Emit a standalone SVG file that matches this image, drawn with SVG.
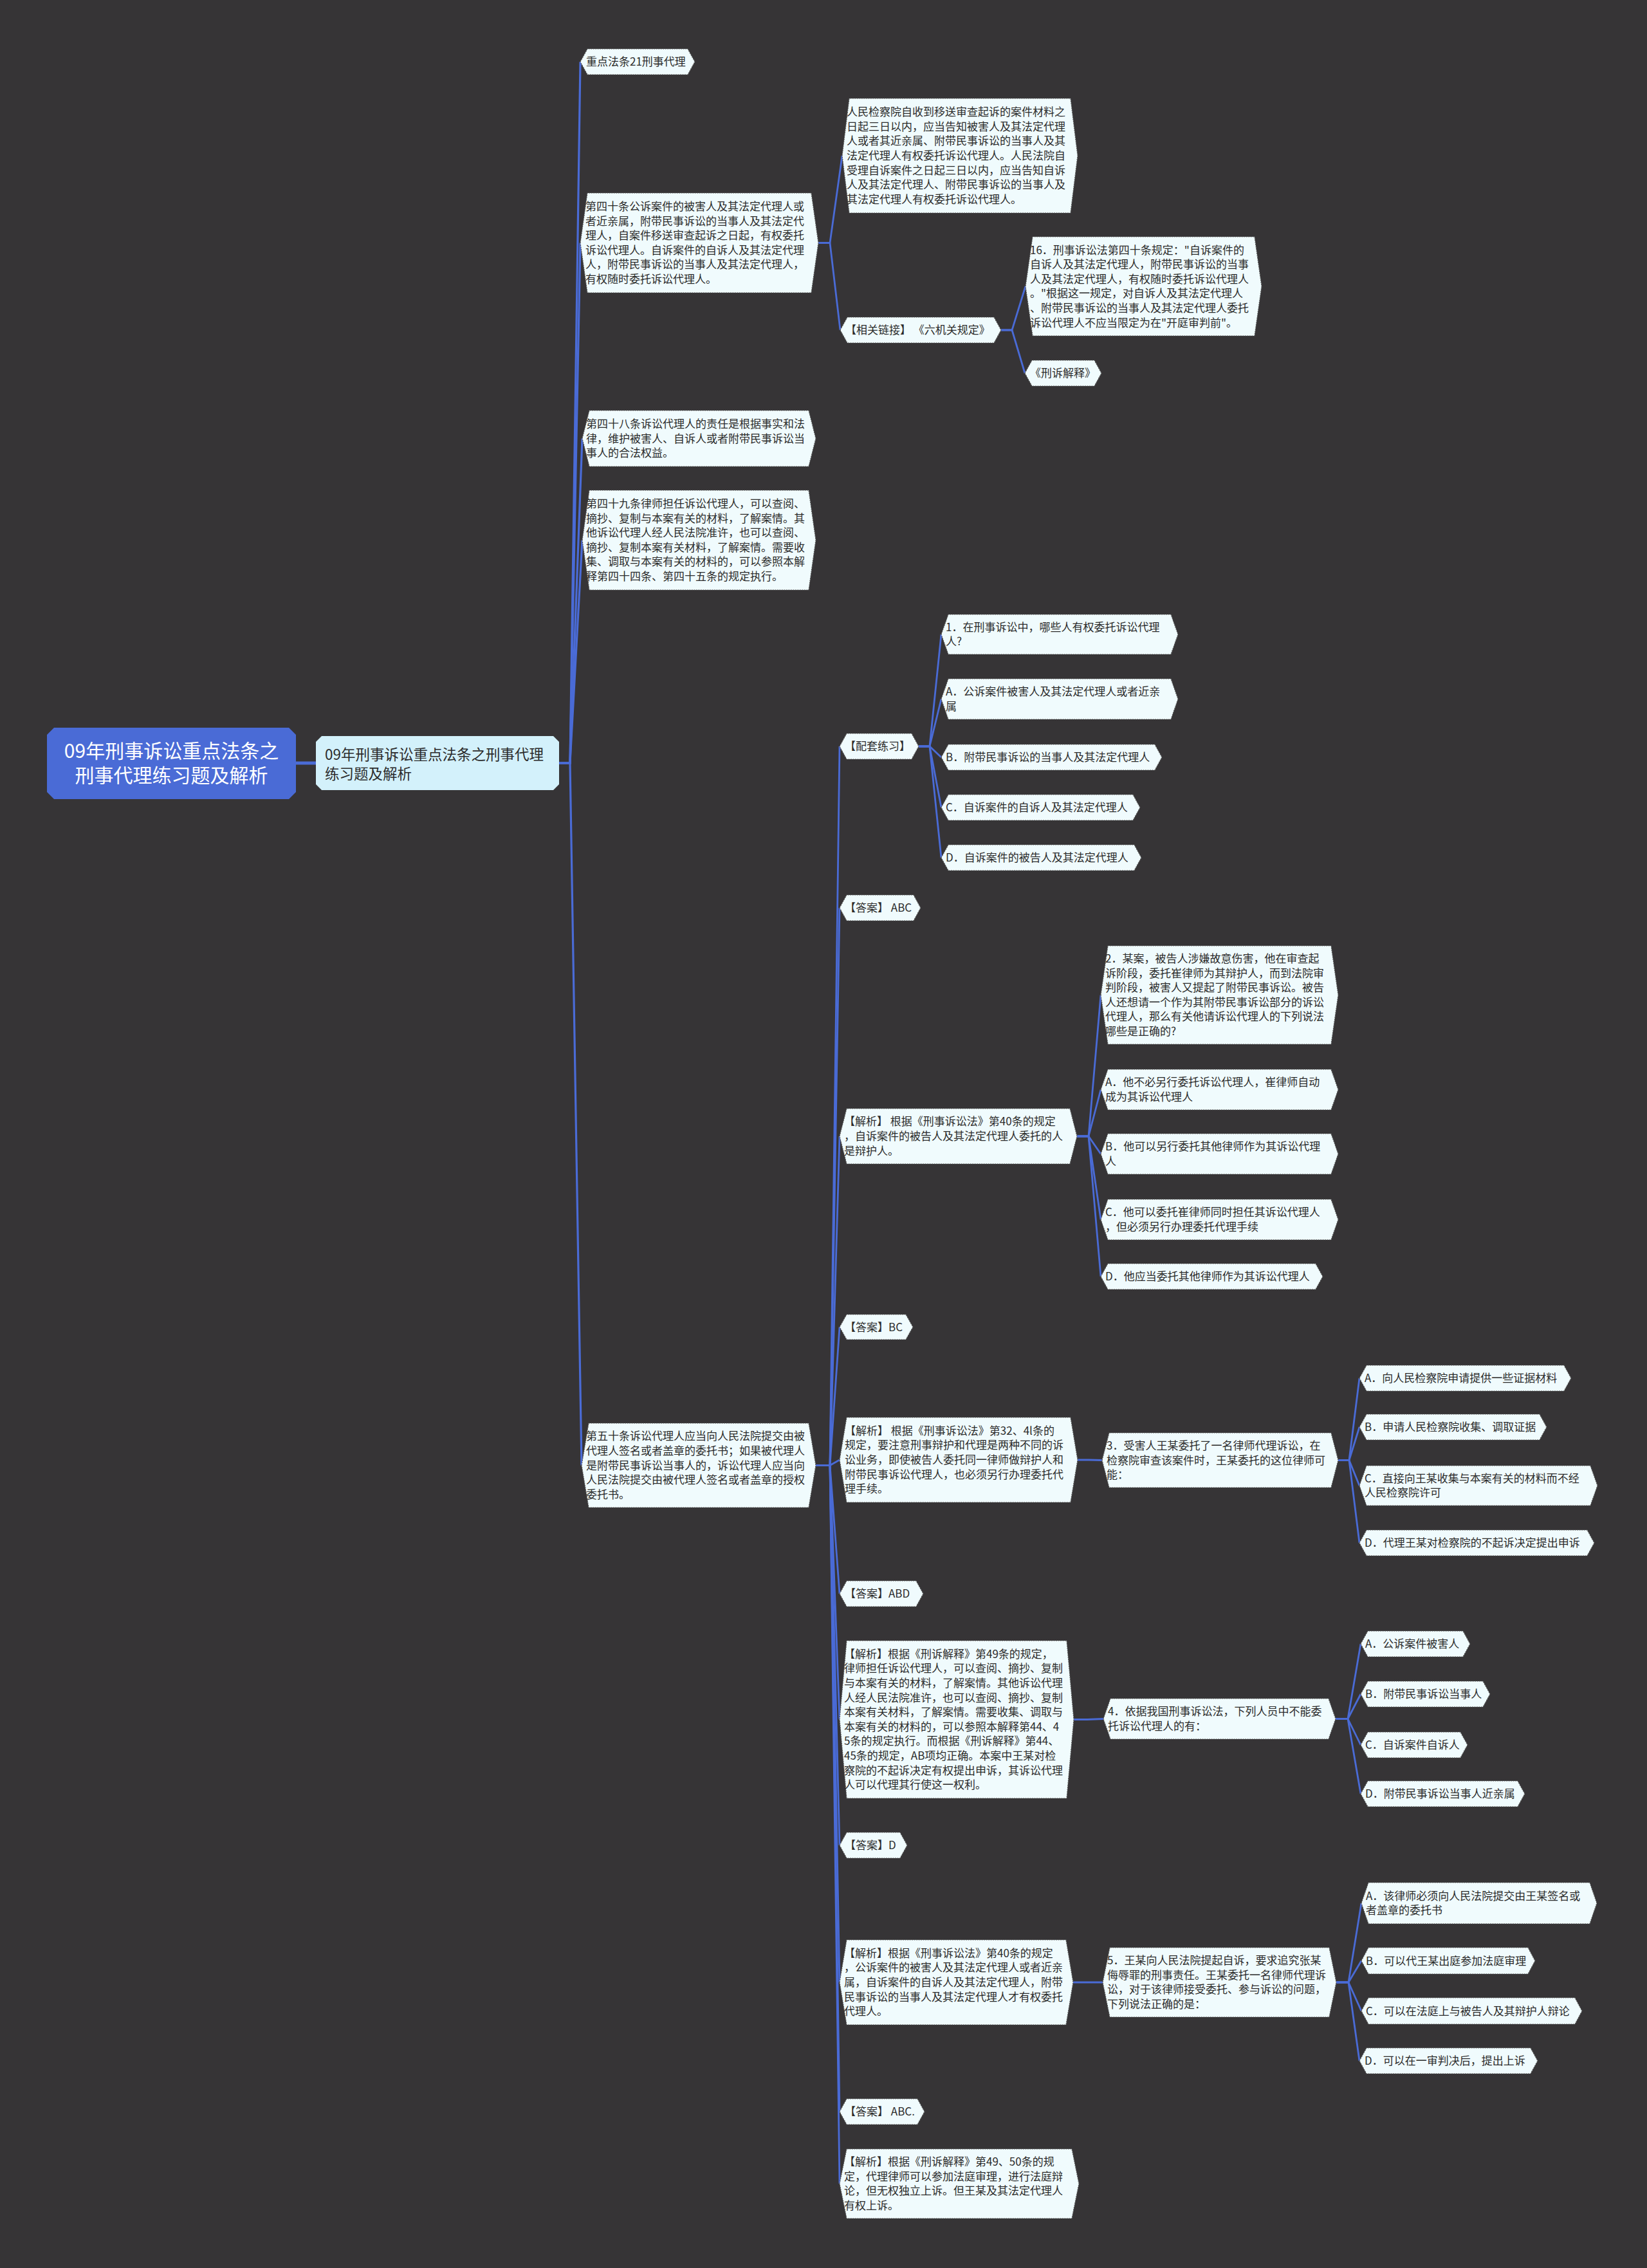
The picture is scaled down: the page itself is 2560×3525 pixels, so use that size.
<svg xmlns="http://www.w3.org/2000/svg" width="2560" height="3525" viewBox="0 0 2560 3525">
<style>
.t{font-family:"Noto Sans CJK SC","Noto Sans",sans-serif;font-size:17px;fill:#2b2b2b}
.nd{fill:#f0fbfd;stroke:#555;stroke-width:1.2;stroke-dasharray:2 1.5}
.c{fill:none;stroke:#4a6bd6;stroke-width:2.8;stroke-linejoin:round}
.c1{fill:none;stroke:#4a6bd6;stroke-width:3.2}
</style>
<rect width="2560" height="3525" fill="#363436"/>
<g id="connectors">
<path class="c" style="stroke-width:5" d="M460,1186 L491,1186"/>
<path class="c1" d="M869,1186 H886 L902,96"/>
<path class="c1" d="M869,1186 H886 L902,377.5"/>
<path class="c1" d="M869,1186 H886 L905,681.5"/>
<path class="c1" d="M869,1186 H886 L905,839.5"/>
<path class="c1" d="M869,1186 H886 L904,2277.5"/>
<path class="c" d="M1272,377.5 H1290 L1309,242"/>
<path class="c" d="M1272,377.5 H1290 L1306,513"/>
<path class="c" d="M1556,513 H1573 L1594,445"/>
<path class="c" d="M1556,513 H1573 L1593,580"/>
<path class="c" d="M1268,2277.5 H1290 L1305,1160"/>
<path class="c" d="M1268,2277.5 H1290 L1305,1411"/>
<path class="c" d="M1268,2277.5 H1290 L1305,1766"/>
<path class="c" d="M1268,2277.5 H1290 L1305,2062.5"/>
<path class="c" d="M1268,2277.5 H1290 L1305,2269"/>
<path class="c" d="M1268,2277.5 H1290 L1305,2477"/>
<path class="c" d="M1268,2277.5 H1290 L1305,2672.5"/>
<path class="c" d="M1268,2277.5 H1290 L1305,2868"/>
<path class="c" d="M1268,2277.5 H1290 L1305,3081"/>
<path class="c" d="M1268,2277.5 H1290 L1305,3282"/>
<path class="c" d="M1268,2277.5 H1290 L1305,3394"/>
<path class="c" d="M1428,1160 H1445 L1463,986"/>
<path class="c" d="M1428,1160 H1445 L1463,1086.5"/>
<path class="c" d="M1428,1160 H1445 L1463,1177"/>
<path class="c" d="M1428,1160 H1445 L1463,1255"/>
<path class="c" d="M1428,1160 H1445 L1463,1333"/>
<path class="c" d="M1674,1766 H1692 L1711,1546.5"/>
<path class="c" d="M1674,1766 H1692 L1711,1693.5"/>
<path class="c" d="M1674,1766 H1692 L1711,1793.5"/>
<path class="c" d="M1674,1766 H1692 L1711,1895.5"/>
<path class="c" d="M1674,1766 H1692 L1711,1984"/>
<path class="c" d="M1675,2269 H1693 L1713,2269.5"/>
<path class="c" d="M2080,2269.5 H2097 L2113,2142"/>
<path class="c" d="M2080,2269.5 H2097 L2113,2218"/>
<path class="c" d="M2080,2269.5 H2097 L2113,2309"/>
<path class="c" d="M2080,2269.5 H2097 L2113,2398"/>
<path class="c" d="M1669,2672.5 H1690 L1715,2671.5"/>
<path class="c" d="M2076,2671.5 H2095 L2115,2555"/>
<path class="c" d="M2076,2671.5 H2095 L2115,2633"/>
<path class="c" d="M2076,2671.5 H2095 L2115,2712"/>
<path class="c" d="M2076,2671.5 H2095 L2115,2788"/>
<path class="c" d="M1668,3081 H1690 L1714,3081"/>
<path class="c" d="M2077,3081 H2096 L2116,2958"/>
<path class="c" d="M2077,3081 H2096 L2116,3047.5"/>
<path class="c" d="M2077,3081 H2096 L2116,3125.5"/>
<path class="c" d="M2077,3081 H2096 L2113,3203"/>
</g>

<g id="root">
<polygon points="84,1131 449,1131 460,1142 460,1231 449,1242 84,1242 73,1231 73,1142" fill="#4a6bd6"/>
<text class="t" style="font-size:30px;fill:#fff" text-anchor="middle"><tspan x="266.5" y="1178">09年刑事诉讼重点法条之</tspan><tspan x="266.5" y="1216">刑事代理练习题及解析</tspan></text>
</g>

<g id="n1">
<polygon points="500,1144 860,1144 869,1153 869,1219 860,1228 500,1228 491,1219 491,1153" fill="#d3f1fb"/>
<text class="t" style="font-size:22.5px"><tspan x="505" y="1181">09年刑事诉讼重点法条之刑事代理</tspan><tspan x="505" y="1211">练习题及解析</tspan></text>
</g>

<g id="n2a">
<polygon class="nd" points="902,96 913,76 1069,76 1080,96 1069,116 913,116"/>
<text class="t" x="911" y="102">重点法条21刑事代理</text>
</g>

<g id="n2b">
<polygon class="nd" points="902,377.5 913,300 1261,300 1272,377.5 1261,455 913,455"/>
<text class="t"><tspan x="910" y="327">第四十条公诉案件的被害人及其法定代理人或</tspan><tspan x="910" y="349.6">者近亲属，附带民事诉讼的当事人及其法定代</tspan><tspan x="910" y="372.2">理人，自案件移送审查起诉之日起，有权委托</tspan><tspan x="910" y="394.8">诉讼代理人。自诉案件的自诉人及其法定代理</tspan><tspan x="910" y="417.4">人，附带民事诉讼的当事人及其法定代理人，</tspan><tspan x="910" y="440">有权随时委托诉讼代理人。</tspan></text>
</g>

<g id="n3a">
<polygon class="nd" points="1309,242 1320,153 1664,153 1675,242 1664,331 1320,331"/>
<text class="t"><tspan x="1316" y="180.2">人民检察院自收到移送审查起诉的案件材料之</tspan><tspan x="1316" y="202.8">日起三日以内，应当告知被害人及其法定代理</tspan><tspan x="1316" y="225.4">人或者其近亲属、附带民事诉讼的当事人及其</tspan><tspan x="1316" y="248">法定代理人有权委托诉讼代理人。人民法院自</tspan><tspan x="1316" y="270.6">受理自诉案件之日起三日以内，应当告知自诉</tspan><tspan x="1316" y="293.2">人及其法定代理人、附带民事诉讼的当事人及</tspan><tspan x="1316" y="315.8">其法定代理人有权委托诉讼代理人。</tspan></text>
</g>

<g id="n3b">
<polygon class="nd" points="1306,513 1317,493 1545,493 1556,513 1545,533 1317,533"/>
<text class="t" x="1314" y="519">【相关链接】 《六机关规定》</text>
</g>

<g id="n4a">
<polygon class="nd" points="1594,445 1605,368 1950,368 1961,445 1950,522 1605,522"/>
<text class="t"><tspan x="1601" y="394.5">16．刑事诉讼法第四十条规定："自诉案件的</tspan><tspan x="1601" y="417.1">自诉人及其法定代理人，附带民事诉讼的当事</tspan><tspan x="1601" y="439.7">人及其法定代理人，有权随时委托诉讼代理人</tspan><tspan x="1601" y="462.3">。"根据这一规定，对自诉人及其法定代理人</tspan><tspan x="1601" y="484.9">、附带民事诉讼的当事人及其法定代理人委托</tspan><tspan x="1601" y="507.5">诉讼代理人不应当限定为在"开庭审判前"。</tspan></text>
</g>

<g id="n4b">
<polygon class="nd" points="1593,580 1604,560 1701,560 1712,580 1701,600 1604,600"/>
<text class="t" x="1601" y="586">《刑诉解释》</text>
</g>

<g id="n2c">
<polygon class="nd" points="905,681.5 916,638 1257,638 1268,681.5 1257,725 916,725"/>
<text class="t"><tspan x="911" y="665">第四十八条诉讼代理人的责任是根据事实和法</tspan><tspan x="911" y="687.6">律，维护被害人、自诉人或者附带民事诉讼当</tspan><tspan x="911" y="710.2">事人的合法权益。</tspan></text>
</g>

<g id="n2d">
<polygon class="nd" points="905,839.5 916,762 1257,762 1268,839.5 1257,917 916,917"/>
<text class="t"><tspan x="911" y="789">第四十九条律师担任诉讼代理人，可以查阅、</tspan><tspan x="911" y="811.6">摘抄、复制与本案有关的材料，了解案情。其</tspan><tspan x="911" y="834.2">他诉讼代理人经人民法院准许，也可以查阅、</tspan><tspan x="911" y="856.8">摘抄、复制本案有关材料，了解案情。需要收</tspan><tspan x="911" y="879.4">集、调取与本案有关的材料的，可以参照本解</tspan><tspan x="911" y="902">释第四十四条、第四十五条的规定执行。</tspan></text>
</g>

<g id="n2e">
<polygon class="nd" points="904,2277.5 915,2212 1257,2212 1268,2277.5 1257,2343 915,2343"/>
<text class="t"><tspan x="911" y="2238.3">第五十条诉讼代理人应当向人民法院提交由被</tspan><tspan x="911" y="2260.9">代理人签名或者盖章的委托书；如果被代理人</tspan><tspan x="911" y="2283.5">是附带民事诉讼当事人的，诉讼代理人应当向</tspan><tspan x="911" y="2306.1">人民法院提交由被代理人签名或者盖章的授权</tspan><tspan x="911" y="2328.7">委托书。</tspan></text>
</g>

<g id="n3c">
<polygon class="nd" points="1305,1160 1316,1140 1417,1140 1428,1160 1417,1180 1316,1180"/>
<text class="t" x="1313" y="1166">【配套练习】</text>
</g>

<g id="q1">
<polygon class="nd" points="1463,986 1474,955 1820,955 1831,986 1820,1017 1474,1017"/>
<text class="t"><tspan x="1470" y="980.7">1．在刑事诉讼中，哪些人有权委托诉讼代理</tspan><tspan x="1470" y="1003.3">人?</tspan></text>
</g>
<g id="q1a">
<polygon class="nd" points="1463,1086.5 1474,1055 1820,1055 1831,1086.5 1820,1118 1474,1118"/>
<text class="t"><tspan x="1470" y="1081.2">A．公诉案件被害人及其法定代理人或者近亲</tspan><tspan x="1470" y="1103.8">属</tspan></text>
</g>
<g id="q1b">
<polygon class="nd" points="1463,1177 1474,1157 1795,1157 1806,1177 1795,1197 1474,1197"/>
<text class="t" x="1470" y="1183">B．附带民事诉讼的当事人及其法定代理人</text>
</g>
<g id="q1c">
<polygon class="nd" points="1463,1255 1474,1235 1761,1235 1772,1255 1761,1275 1474,1275"/>
<text class="t" x="1470" y="1261">C．自诉案件的自诉人及其法定代理人</text>
</g>
<g id="q1d">
<polygon class="nd" points="1463,1333 1474,1313 1763,1313 1774,1333 1763,1353 1474,1353"/>
<text class="t" x="1470" y="1339">D．自诉案件的被告人及其法定代理人</text>
</g>

<g id="ans1">
<polygon class="nd" points="1305,1411 1316,1391 1420,1391 1431,1411 1420,1431 1316,1431"/>
<text class="t" x="1313" y="1417">【答案】 ABC</text>
</g>

<g id="jx2">
<polygon class="nd" points="1305,1766 1316,1723 1663,1723 1674,1766 1663,1809 1316,1809"/>
<text class="t"><tspan x="1312" y="1749.4">【解析】 根据《刑事诉讼法》第40条的规定</tspan><tspan x="1312" y="1772">，自诉案件的被告人及其法定代理人委托的人</tspan><tspan x="1312" y="1794.6">是辩护人。</tspan></text>
</g>

<g id="q2">
<polygon class="nd" points="1711,1546.5 1722,1470 2069,1470 2080,1546.5 2069,1623 1722,1623"/>
<text class="t"><tspan x="1718" y="1496">2．某案，被告人涉嫌故意伤害，他在审查起</tspan><tspan x="1718" y="1518.6">诉阶段，委托崔律师为其辩护人，而到法院审</tspan><tspan x="1718" y="1541.2">判阶段，被害人又提起了附带民事诉讼。被告</tspan><tspan x="1718" y="1563.8">人还想请一个作为其附带民事诉讼部分的诉讼</tspan><tspan x="1718" y="1586.4">代理人，那么有关他请诉讼代理人的下列说法</tspan><tspan x="1718" y="1609">哪些是正确的?</tspan></text>
</g>
<g id="q2a">
<polygon class="nd" points="1711,1693.5 1722,1662 2069,1662 2080,1693.5 2069,1725 1722,1725"/>
<text class="t"><tspan x="1718" y="1688.2">A．他不必另行委托诉讼代理人，崔律师自动</tspan><tspan x="1718" y="1710.8">成为其诉讼代理人</tspan></text>
</g>
<g id="q2b">
<polygon class="nd" points="1711,1793.5 1722,1762 2069,1762 2080,1793.5 2069,1825 1722,1825"/>
<text class="t"><tspan x="1718" y="1788.2">B．他可以另行委托其他律师作为其诉讼代理</tspan><tspan x="1718" y="1810.8">人</tspan></text>
</g>
<g id="q2c">
<polygon class="nd" points="1711,1895.5 1722,1864 2069,1864 2080,1895.5 2069,1927 1722,1927"/>
<text class="t"><tspan x="1718" y="1890.2">C．他可以委托崔律师同时担任其诉讼代理人</tspan><tspan x="1718" y="1912.8">，但必须另行办理委托代理手续</tspan></text>
</g>
<g id="q2d">
<polygon class="nd" points="1711,1984 1722,1964 2045,1964 2056,1984 2045,2004 1722,2004"/>
<text class="t" x="1718" y="1990">D．他应当委托其他律师作为其诉讼代理人</text>
</g>

<g id="ans2">
<polygon class="nd" points="1305,2062.5 1316,2043 1408,2043 1419,2062.5 1408,2082 1316,2082"/>
<text class="t" x="1313" y="2068.5">【答案】BC</text>
</g>

<g id="jx3">
<polygon class="nd" points="1305,2269 1316,2203 1664,2203 1675,2269 1664,2335 1316,2335"/>
<text class="t"><tspan x="1313" y="2229.8">【解析】 根据《刑事诉讼法》第32、4l条的</tspan><tspan x="1313" y="2252.4">规定，要注意刑事辩护和代理是两种不同的诉</tspan><tspan x="1313" y="2275">讼业务，即使被告人委托同一律师做辩护人和</tspan><tspan x="1313" y="2297.6">附带民事诉讼代理人，也必须另行办理委托代</tspan><tspan x="1313" y="2320.2">理手续。</tspan></text>
</g>

<g id="q3">
<polygon class="nd" points="1713,2269.5 1724,2227 2069,2227 2080,2269.5 2069,2312 1724,2312"/>
<text class="t"><tspan x="1720" y="2252.9">3．受害人王某委托了一名律师代理诉讼，在</tspan><tspan x="1720" y="2275.5">检察院审查该案件时，王某委托的这位律师可</tspan><tspan x="1720" y="2298.1">能：</tspan></text>
</g>
<g id="q3a">
<polygon class="nd" points="2113,2142 2124,2122 2431,2122 2442,2142 2431,2162 2124,2162"/>
<text class="t" x="2121" y="2148">A．向人民检察院申请提供一些证据材料</text>
</g>
<g id="q3b">
<polygon class="nd" points="2113,2218 2124,2198 2393,2198 2404,2218 2393,2238 2124,2238"/>
<text class="t" x="2121" y="2224">B．申请人民检察院收集、调取证据</text>
</g>
<g id="q3c">
<polygon class="nd" points="2113,2309 2124,2278 2472,2278 2483,2309 2472,2340 2124,2340"/>
<text class="t"><tspan x="2121" y="2303.7">C．直接向王某收集与本案有关的材料而不经</tspan><tspan x="2121" y="2326.3">人民检察院许可</tspan></text>
</g>
<g id="q3d">
<polygon class="nd" points="2113,2398 2124,2378 2467,2378 2478,2398 2467,2418 2124,2418"/>
<text class="t" x="2121" y="2404">D．代理王某对检察院的不起诉决定提出申诉</text>
</g>

<g id="ans3">
<polygon class="nd" points="1305,2477 1316,2457 1424,2457 1435,2477 1424,2497 1316,2497"/>
<text class="t" x="1313" y="2483">【答案】ABD</text>
</g>

<g id="jx4">
<polygon class="nd" points="1305,2672.5 1316,2550 1658,2550 1669,2672.5 1658,2795 1316,2795"/>
<text class="t"><tspan x="1312" y="2576.8">【解析】根据《刑诉解释》第49条的规定，</tspan><tspan x="1312" y="2599.4">律师担任诉讼代理人，可以查阅、摘抄、复制</tspan><tspan x="1312" y="2622">与本案有关的材料，了解案情。其他诉讼代理</tspan><tspan x="1312" y="2644.6">人经人民法院准许，也可以查阅、摘抄、复制</tspan><tspan x="1312" y="2667.2">本案有关材料，了解案情。需要收集、调取与</tspan><tspan x="1312" y="2689.8">本案有关的材料的，可以参照本解释第44、4</tspan><tspan x="1312" y="2712.4">5条的规定执行。而根据《刑诉解释》第44、</tspan><tspan x="1312" y="2735">45条的规定，AB项均正确。本案中王某对检</tspan><tspan x="1312" y="2757.6">察院的不起诉决定有权提出申诉，其诉讼代理</tspan><tspan x="1312" y="2780.2">人可以代理其行使这一权利。</tspan></text>
</g>

<g id="q4">
<polygon class="nd" points="1715,2671.5 1726,2640 2065,2640 2076,2671.5 2065,2703 1726,2703"/>
<text class="t"><tspan x="1722" y="2666.2">4．依据我国刑事诉讼法，下列人员中不能委</tspan><tspan x="1722" y="2688.8">托诉讼代理人的有：</tspan></text>
</g>
<g id="q4a">
<polygon class="nd" points="2115,2555 2126,2535 2274,2535 2285,2555 2274,2575 2126,2575"/>
<text class="t" x="2122" y="2561">A．公诉案件被害人</text>
</g>
<g id="q4b">
<polygon class="nd" points="2115,2633 2126,2613 2305,2613 2316,2633 2305,2653 2126,2653"/>
<text class="t" x="2122" y="2639">B．附带民事诉讼当事人</text>
</g>
<g id="q4c">
<polygon class="nd" points="2115,2712 2126,2692 2270,2692 2281,2712 2270,2732 2126,2732"/>
<text class="t" x="2122" y="2718">C．自诉案件自诉人</text>
</g>
<g id="q4d">
<polygon class="nd" points="2115,2788 2126,2768 2359,2768 2370,2788 2359,2808 2126,2808"/>
<text class="t" x="2122" y="2794">D．附带民事诉讼当事人近亲属</text>
</g>

<g id="ans4">
<polygon class="nd" points="1305,2868 1316,2848 1399,2848 1410,2868 1399,2888 1316,2888"/>
<text class="t" x="1313" y="2874">【答案】D</text>
</g>

<g id="jx5">
<polygon class="nd" points="1305,3081 1316,3015 1657,3015 1668,3081 1657,3147 1316,3147"/>
<text class="t"><tspan x="1312" y="3041.8">【解析】根据《刑事诉讼法》第40条的规定</tspan><tspan x="1312" y="3064.4">，公诉案件的被害人及其法定代理人或者近亲</tspan><tspan x="1312" y="3087">属，自诉案件的自诉人及其法定代理人，附带</tspan><tspan x="1312" y="3109.6">民事诉讼的当事人及其法定代理人才有权委托</tspan><tspan x="1312" y="3132.2">代理人。</tspan></text>
</g>

<g id="q5">
<polygon class="nd" points="1714,3081 1725,3027 2066,3027 2077,3081 2066,3135 1725,3135"/>
<text class="t"><tspan x="1721" y="3053.1">5．王某向人民法院提起自诉，要求追究张某</tspan><tspan x="1721" y="3075.7">侮辱罪的刑事责任。王某委托一名律师代理诉</tspan><tspan x="1721" y="3098.3">讼，对于该律师接受委托、参与诉讼的问题，</tspan><tspan x="1721" y="3120.9">下列说法正确的是：</tspan></text>
</g>
<g id="q5a">
<polygon class="nd" points="2116,2958 2127,2926 2471,2926 2482,2958 2471,2990 2127,2990"/>
<text class="t"><tspan x="2123" y="2952.7">A．该律师必须向人民法院提交由王某签名或</tspan><tspan x="2123" y="2975.3">者盖章的委托书</tspan></text>
</g>
<g id="q5b">
<polygon class="nd" points="2116,3047.5 2127,3027 2375,3027 2386,3047.5 2375,3068 2127,3068"/>
<text class="t" x="2123" y="3053.5">B．可以代王某出庭参加法庭审理</text>
</g>
<g id="q5c">
<polygon class="nd" points="2116,3125.5 2127,3105 2448,3105 2459,3125.5 2448,3146 2127,3146"/>
<text class="t" x="2123" y="3131.5">C．可以在法庭上与被告人及其辩护人辩论</text>
</g>
<g id="q5d">
<polygon class="nd" points="2113,3203 2124,3183 2379,3183 2390,3203 2379,3223 2124,3223"/>
<text class="t" x="2121" y="3209">D．可以在一审判决后，提出上诉</text>
</g>

<g id="ans5">
<polygon class="nd" points="1305,3282 1316,3262 1426,3262 1437,3282 1426,3302 1316,3302"/>
<text class="t" x="1313" y="3288">【答案】 ABC.</text>
</g>

<g id="jx6">
<polygon class="nd" points="1305,3394 1316,3340 1666,3340 1677,3394 1666,3448 1316,3448"/>
<text class="t"><tspan x="1312" y="3366.1">【解析】根据《刑诉解释》第49、50条的规</tspan><tspan x="1312" y="3388.7">定，代理律师可以参加法庭审理，进行法庭辩</tspan><tspan x="1312" y="3411.3">论，但无权独立上诉。但王某及其法定代理人</tspan><tspan x="1312" y="3433.9">有权上诉。</tspan></text>
</g>
</svg>
